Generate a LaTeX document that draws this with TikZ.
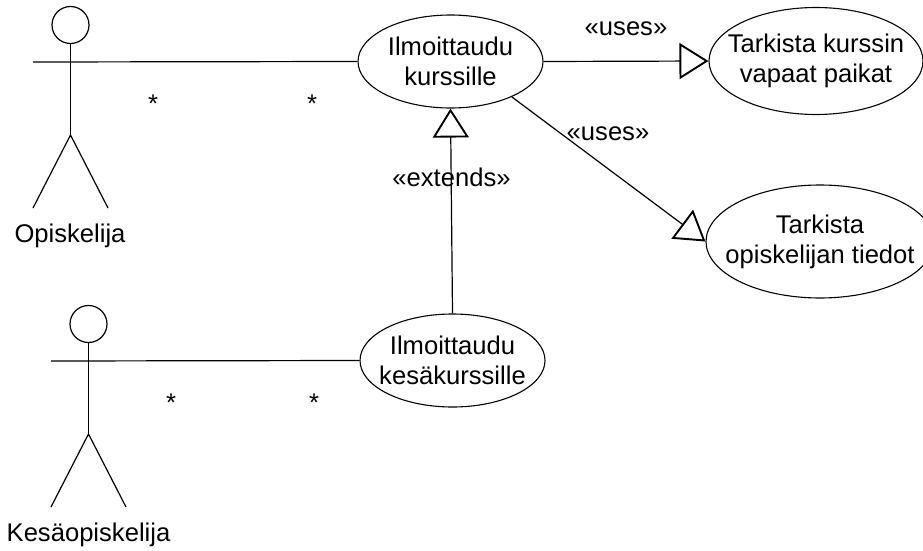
\documentclass[tikz,border=0pt]{standalone}
\usepackage{fontspec}
\setmainfont{Liberation Sans}
\usetikzlibrary{arrows.meta}
\usetikzlibrary{shapes.geometric}
\tikzset{
  usecase/.style={draw,ellipse,line width=1.1pt,inner sep=0pt},
  caption/.style={font=\fontsize{25.6}{30}\selectfont,inner sep=0pt,align=center},
  link/.style={line width=1.2pt},
  inherit/.style={line width=1.2pt,-{Triangle[open,length=29pt,width=36pt,line width=1.9pt]}}
}
\def\stickman(#1,#2)#3% Syntax: (head centre) name
    { \node[draw,circle,line width=1.2pt,minimum size=37pt,inner sep=0pt] (#3head) at (#1,#2) {};
      \coordinate (#3hip) at (#1,#2+110);
      \coordinate (#3hand) at (#1-37.5,#2+37);
      \coordinate (#3left) at (#1-37.5,#2+183);
      \coordinate (#3right) at (#1+37.5,#2+183);
      \draw[link] (#3head) -- (#3hip);
      \draw[link] (#3left) -- (#3hip) -- (#3right); }

\begin{document}
\begin{tikzpicture} [x=1pt,y=-1pt]
  \useasboundingbox (0,0) rectangle (923,551);

  %draw actors
  \stickman(70.5,25){student}
  \stickman(88.5,324){summer}
  \node[caption] (studentname) at (70,236) {Opiskelija};
  \node[caption] (summername) at (88.5,535) {Kesäopiskelija};

  %draw use cases
  \node[usecase,minimum width=185pt,minimum height=93pt,label={[caption]center:{Ilmoittaudu\\kurssille}}] (enrol) at (450.5,61.5) {};
  \node[usecase,minimum width=214pt,minimum height=107pt,label={[caption]center:{Tarkista kurssin\\vapaat paikat}}] (places) at (816,61) {};
  \node[usecase,minimum width=228pt,minimum height=113pt,label={[caption]center:{Tarkista\\opiskelijan tiedot}}] (details) at (820,241.5) {};
  \node[usecase,minimum width=185pt,minimum height=93pt,label={[caption]center:{Ilmoittaudu\\kesäkurssille}}] (summerenrol) at (452.5,360.5) {};

  %draw connectors
  \draw[link] (studenthand) -- (enrol.west);
  \draw[link] (summerhand) -- (summerenrol.west);
  \draw[inherit] (enrol.east) -- (places.west);
  \draw[inherit] (enrol.-30.5) -- (details.west);
  \draw[inherit] (summerenrol.north) -- (enrol.south);

  %draw labels
  \node[caption] (usesa) at (626,29) {«uses»};
  \node[caption] (usesb) at (608,134) {«uses»};
  \node[caption] (extends) at (451.5,177) {«extends»};
  \node[caption] (stara) at (153,104) {*};
  \node[caption] (starb) at (312,104) {*};
  \node[caption] (starc) at (171,403) {*};
  \node[caption] (stard) at (314,403) {*};
 \end{tikzpicture}
\end{document}
